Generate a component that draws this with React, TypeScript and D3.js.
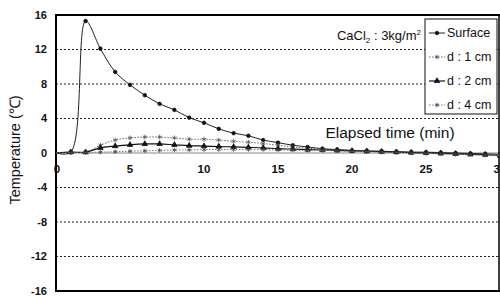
import React from "react";
import * as d3 from "d3";

const times: number[] = d3.range(0, 31);
const surface: number[] = [0, 0.1, 15.3, 12.1, 9.4, 7.9, 6.7, 5.7, 5.0, 4.1, 3.5, 2.8, 2.3, 2.0, 1.5, 1.2, 0.9, 0.7, 0.5, 0.4, 0.3, 0.25, 0.2, 0.15, 0.1, 0.1, 0.05, 0, -0.05, -0.1, -0.15];
const d1cm: number[] = [0, 0.1, 0.1, 0.9, 1.5, 1.75, 1.85, 1.85, 1.75, 1.6, 1.6, 1.5, 1.35, 1.25, 1.1, 0.9, 0.7, 0.55, 0.45, 0.35, 0.3, 0.25, 0.2, 0.15, 0.1, 0.05, 0, -0.05, -0.1, -0.15, -0.2];
const d2cm: number[] = [0, 0.1, 0.1, 0.6, 0.8, 0.95, 1.05, 1.05, 0.95, 0.85, 0.8, 0.75, 0.7, 0.65, 0.6, 0.5, 0.45, 0.4, 0.35, 0.3, 0.25, 0.2, 0.15, 0.1, 0.05, 0, -0.05, -0.1, -0.15, -0.2, -0.3];
const d4cm: number[] = [0, 0.05, 0.05, 0.1, 0.15, 0.2, 0.25, 0.3, 0.35, 0.35, 0.4, 0.4, 0.4, 0.4, 0.4, 0.35, 0.35, 0.3, 0.3, 0.25, 0.2, 0.15, 0.1, 0.05, 0, -0.05, -0.1, -0.15, -0.2, -0.25, -0.3];
const seriesNames: string[] = ["Surface", "d : 1 cm", "d : 2 cm", "d : 4 cm"];
const yTicks: number[] = [16, 12, 8, 4, 0, -4, -8, -12, -16];
const xTicks: number[] = [0, 5, 10, 15, 20, 25, 30];
const gridValues: number[] = [12, 8, 4, -4, -8, -12];

const W = 500, H = 297;
const x = d3.scaleLinear().domain([0, 30]).range([56, 500]);
const y = d3.scaleLinear().domain([-16, 16]).range([291, 15]);

const styles = [
  { stroke: "#222", dash: "", width: 1, symbol: d3.symbolCircle, size: 10, fill: "#111" },
  { stroke: "#666", dash: "1.5,1.5", width: 1, symbol: d3.symbolAsterisk, size: 16, fill: "#555" },
  { stroke: "#111", dash: "", width: 1.2, symbol: d3.symbolTriangle, size: 13, fill: "#111" },
  { stroke: "#777", dash: "1.5,1.5", width: 1, symbol: d3.symbolAsterisk, size: 14, fill: "#444" },
];

export default function App() {
  const data = [surface, d1cm, d2cm, d4cm];
  const line = d3
    .line<number>()
    .x((_, i) => x(times[i]))
    .y((v) => y(v))
    .curve(d3.curveCatmullRom.alpha(0.5));
  const font = "'Liberation Sans', Arial, sans-serif";
  return (
    <div style={{ position: "absolute", left: 0, top: 0 }}>
      <svg width={W} height={H} style={{ display: "block", background: "#fff" }} fontFamily={font}>
        <rect x={0} y={0} width={W} height={H} fill="#fff" />
        {gridValues.map((g) => (
          <line key={g} x1={x(0)} x2={x(30)} y1={y(g)} y2={y(g)} stroke="#222" strokeWidth={1} strokeDasharray="2,2" />
        ))}
        <line x1={x(0)} x2={x(30)} y1={y(0)} y2={y(0)} stroke="#888" strokeWidth={1.2} />
        <line x1={x(0)} x2={W} y1={y(16)} y2={y(16)} stroke="#000" strokeWidth={2} />
        <line x1={x(0)} x2={W} y1={y(-16)} y2={y(-16)} stroke="#000" strokeWidth={2} />
        <line x1={x(0)} x2={x(0)} y1={y(16) - 1} y2={y(-16) + 1} stroke="#000" strokeWidth={2} />
        <line x1={x(30) - 1} x2={x(30) - 1} y1={y(16)} y2={y(-16)} stroke="#000" strokeWidth={1.5} />
        {yTicks.map((t) => (
          <text key={t} x={47} y={y(t)} dy="0.35em" textAnchor="end" fontSize={11} fontWeight="bold" fill="#111">
            {t}
          </text>
        ))}
        {xTicks.map((t) => (
          <text key={t} x={x(t) + (t === 0 ? 1 : 0)} y={y(0) + 20} textAnchor="middle" fontSize={11.5} fontWeight="bold" fill="#111">
            {t}
          </text>
        ))}
        {data.map((s, si) => (
          <g key={si}>
            <path d={line(s) || ""} fill="none" stroke={styles[si].stroke} strokeWidth={styles[si].width} strokeDasharray={styles[si].dash} />
            {s.map((v, i) =>
              i === 0 ? null : (
                <path
                  key={i}
                  d={d3.symbol().type(styles[si].symbol).size(styles[si].size)() || ""}
                  transform={`translate(${x(times[i])},${y(v)})`}
                  fill={styles[si].fill}
                  stroke={styles[si].fill}
                  strokeWidth={0.8}
                />
              )
            )}
          </g>
        ))}
        <text x={421} y={40} textAnchor="end" fontSize={13} fill="#111">
          CaCl<tspan fontSize={8} dy={3}>2</tspan>
          <tspan dy={-3}> : 3kg/m</tspan>
          <tspan fontSize={8} dy={-5}>2</tspan>
        </text>
        <text x={390} y={138} textAnchor="middle" fontSize={15.5} fill="#111">
          Elapsed time (min)
        </text>
        <text transform={`translate(20,${150}) rotate(-90)`} textAnchor="middle" fontSize={14.5} fill="#111">
          Temperature (℃)
        </text>
        <rect x={425} y={19} width={72} height={95} fill="#fff" stroke="#111" strokeWidth={1} />
        {seriesNames.map((n, i) => {
          const ly = 33 + i * 24;
          return (
            <g key={n}>
              <line x1={429} x2={445} y1={ly} y2={ly} stroke={styles[i].stroke} strokeWidth={styles[i].width} strokeDasharray={styles[i].dash} />
              <path
                d={d3.symbol().type(styles[i].symbol).size(styles[i].size)() || ""}
                transform={`translate(437,${ly})`}
                fill={styles[i].fill}
                stroke={styles[i].fill}
                strokeWidth={0.8}
              />
              <text x={447} y={ly} dy="0.35em" fontSize={12.5} fill="#111">
                {n}
              </text>
            </g>
          );
        })}
      </svg>
    </div>
  );
}
